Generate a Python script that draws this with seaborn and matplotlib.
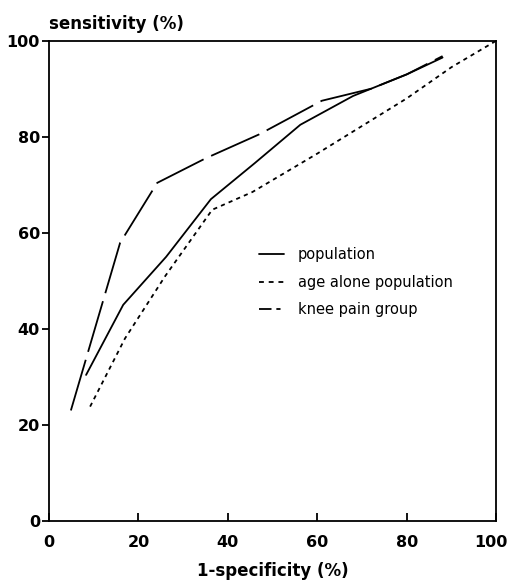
import matplotlib
matplotlib.use("Agg")
import matplotlib.pyplot as plt
import matplotlib.transforms as mtransforms
import seaborn as sns
import pandas as pd

# ROC points (1-specificity %, sensitivity %)
pop_x = [8.3, 16.6, 26.2, 36.2, 46.0, 56.2, 68.0, 80.0, 88.0]
pop_y = [30.4, 45.0, 55.0, 67.0, 74.5, 82.5, 88.5, 93.0, 96.5]

age_x = [9.2, 17.0, 26.0, 36.5, 45.5, 60.0, 80.0, 90.0, 100.0]
age_y = [23.8, 38.0, 51.0, 64.8, 68.5, 76.5, 88.0, 94.5, 100.0]

knee_x = [4.9, 15.9, 24.2, 35.0, 47.0, 61.0, 72.0, 80.0, 88.0]
knee_y = [23.0, 57.9, 70.4, 75.5, 80.5, 87.5, 90.0, 93.0, 96.8]

names = ["population", "age alone population", "knee pain group"]

frames = []
for name, xs, ys in zip(names, [pop_x, age_x, knee_x], [pop_y, age_y, knee_y]):
    frames.append(pd.DataFrame({"x": xs, "y": ys, "series": name}))
data = pd.concat(frames, ignore_index=True)

sns.set_style("ticks")
plt.rcParams["font.family"] = ["DejaVu Sans"]
plt.rcParams["lines.scale_dashes"] = False
for key in ["text.color", "axes.labelcolor", "xtick.color", "ytick.color", "axes.edgecolor"]:
    plt.rcParams[key] = "black"

fig = plt.figure(figsize=(5.1, 5.82), dpi=100)
ax = fig.add_axes([0.096, 0.105, 0.877, 0.825])

sns.lineplot(data=data, x="x", y="y", style="series", style_order=names,
             dashes={"population": "",
                     "age alone population": (3, 3),
                     "knee pain group": (38, 6)},
             color="black", linewidth=1.3, sort=False, estimator=None, ax=ax)

ax.set_xlim(0, 100)
ax.set_ylim(0, 100)
ax.set_xticks([0, 20, 40, 60, 80, 100])
ax.set_yticks([0, 20, 40, 60, 80, 100])
ax.tick_params(axis="x", direction="in", length=6, width=1.3, pad=10, labelsize=11.5)
ax.tick_params(axis="y", direction="out", length=5, width=1.3, pad=1.5, labelsize=11.5)
for lab in ax.get_xticklabels() + ax.get_yticklabels():
    lab.set_fontweight("bold")
for sp in ax.spines.values():
    sp.set_linewidth(1.3)
    sp.set_visible(True)

# nudge the last x label so "100" stays inside the figure
last = ax.get_xticklabels()[-1]
last.set_transform(last.get_transform() +
                   mtransforms.ScaledTranslation(-5 / 100, 0, fig.dpi_scale_trans))

ax.set_xlabel("1-specificity (%)", fontsize=12, fontweight="bold", labelpad=9)
ax.set_ylabel("")
ax.text(0.0, 1.016, "sensitivity (%)", transform=ax.transAxes, fontsize=12,
        fontweight="bold", ha="left", va="bottom")

handles, labels = ax.get_legend_handles_labels()
leg = ax.legend(handles, labels, loc="upper left", bbox_to_anchor=(0.44, 0.597),
                frameon=False, fontsize=10.5, handlelength=1.75,
                handletextpad=0.9, labelspacing=0.85)
# legend keys are drawn shorter than the plotted pattern
leg_lines = leg.get_lines()
leg_lines[1].set_dashes((3.5, 3.5))
leg_lines[2].set_dashes((9, 3.5, 3, 10))

fig.savefig("out.png", dpi=100)
